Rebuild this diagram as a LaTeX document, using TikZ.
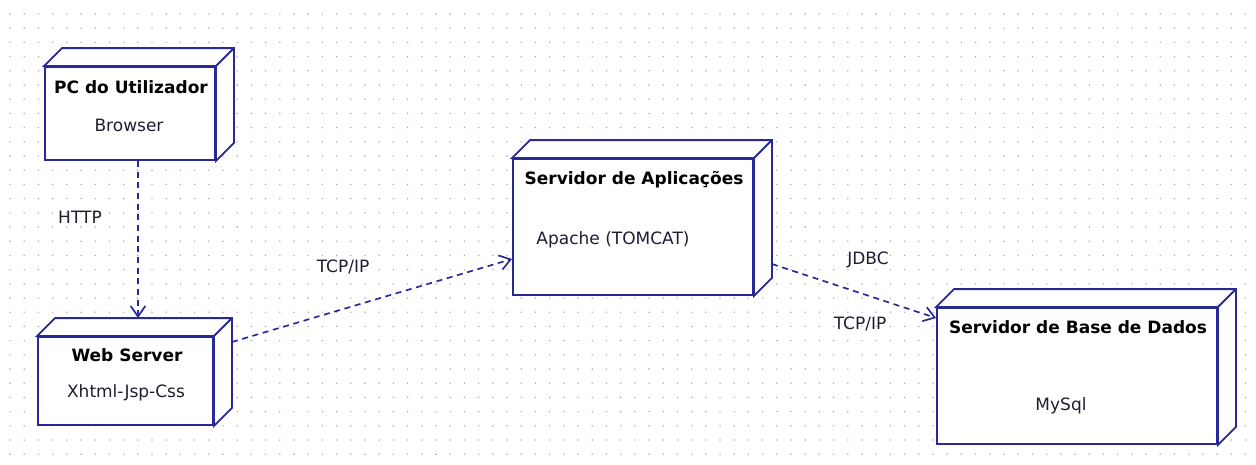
\documentclass[tikz,border=0pt]{standalone}
\usepackage{fontspec}
\setmainfont{DejaVu Sans}
\usetikzlibrary{arrows.meta}
\definecolor{azul}{RGB}{40,40,150}
\definecolor{ponto}{RGB}{170,170,170}
\definecolor{texto}{RGB}{30,30,50}
\begin{document}
\begin{tikzpicture}[x=.75pt, y=-.75pt, >={Straight Barb[length=8pt,width=11pt]},
        caixa/.style={draw=azul, line width=1.4pt, fill=white, inner sep=0pt},
        face/.style={draw=azul, line width=1.4pt, fill=white, line join=miter},
        liga/.style={azul, line width=1.25pt, dash pattern=on 4.5pt off 3.5pt, ->},
        titulo/.style={font=\fontsize{12.75}{15}\selectfont\bfseries, text=black},
        txt/.style={font=\fontsize{12.75}{15}\selectfont, text=texto}]
\useasboundingbox (0,0) rectangle (1256,464);
% grelha de pontos
\foreach \i in {0,...,87}
{
    \foreach \j in {0,...,31}
    {
        \fill[ponto] (10+14.2*\i,14+14.2*\j) circle (.6pt);
    }
}

\node[caixa, minimum width=170*.75pt, minimum height=93*.75pt] (pc) at (130,113.5) {};
\node[caixa, minimum width=175*.75pt, minimum height=88*.75pt] (web) at (125.5,381) {};
\node[caixa, minimum width=240*.75pt, minimum height=136*.75pt] (app) at (633,227) {};
\node[caixa, minimum width=280*.75pt, minimum height=136*.75pt] (bd) at (1077,376) {};

% faces de cima e do lado
\foreach \n in {pc,web,app,bd}
{
    \draw[face] (\n.north west)--++(18,-18)--([shift={(18,-18)}]\n.north east)
        --([shift={(18,-18)}]\n.south east)--(\n.south east)--(\n.north east)--cycle;
    \draw[face] (\n.north east)--++(18,-18);
}

\node[titulo] (pcT) at (131,87) {PC do Utilizador};
\node[txt] (pcS) at (129,125) {Browser};
\node[titulo] (webT) at (127,355) {Web Server};
\node[txt] (webS) at (126,393) {Xhtml-Jsp-Css};
\node[titulo] (appT) at (634,180) {Servidor de Aplicações};
\node[txt] (appS) at (613,240) {Apache (TOMCAT)};
\node[titulo] (bdT) at (1078,327) {Servidor de Base de Dados};
\node[txt] (bdS) at (1061,406) {MySql};

\draw[liga] ([shift={(8,0)}]pc.south)--([shift={(12.5,-18)}]web.north);
\draw[liga] ([shift={(18,-39)}]web.east)--([shift={(0,32)}]app.west);
\draw[liga] ([shift={(18,37)}]app.east)--([shift={(0,-58)}]bd.west);

\node[txt] (http) at (80,217) {HTTP};
\node[txt] (tcpA) at (343,267) {TCP/IP};
\node[txt] (jdbc) at (868,260) {JDBC};
\node[txt] (tcpB) at (860,324) {TCP/IP};

    \end{tikzpicture}
\end{document}
